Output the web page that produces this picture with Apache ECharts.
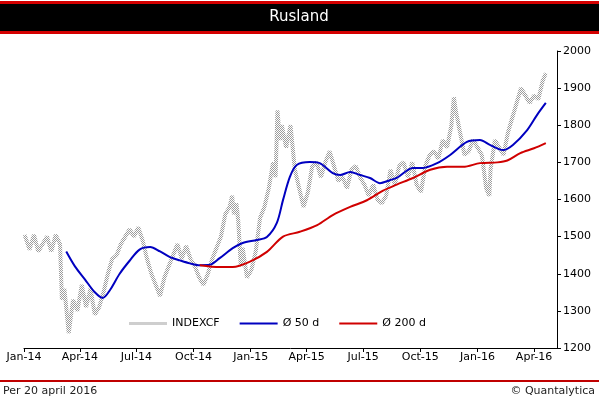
<!DOCTYPE html>
<html>
<head>
<meta charset="utf-8">
<script src="https://cdn.jsdelivr.net/npm/echarts@6/dist/echarts.min.js"></script>
<style>
  html, body { margin: 0; padding: 0; background: #fff; }
  #chart { width: 599px; height: 399px; }
</style>
</head>
<body>
<div id="chart"></div>
<script>
// index, weekly readings (extra points at sharp moves)
var indexDates = [
  '2014-01-02','2014-01-10','2014-01-17','2014-01-24','2014-01-31','2014-02-07','2014-02-14','2014-02-21','2014-02-28',
  '2014-03-03','2014-03-07','2014-03-14','2014-03-21','2014-03-28','2014-04-04','2014-04-11','2014-04-18','2014-04-25',
  '2014-05-02','2014-05-09','2014-05-16','2014-05-23','2014-05-30','2014-06-06','2014-06-13','2014-06-20','2014-06-27',
  '2014-07-04','2014-07-11','2014-07-18','2014-07-25','2014-08-01','2014-08-08','2014-08-15','2014-08-22','2014-08-29',
  '2014-09-05','2014-09-12','2014-09-19','2014-09-26','2014-10-03','2014-10-10','2014-10-17','2014-10-24','2014-10-31',
  '2014-11-07','2014-11-14','2014-11-21','2014-11-28','2014-12-02','2014-12-05','2014-12-09','2014-12-12','2014-12-16','2014-12-19','2014-12-26',
  '2015-01-02','2015-01-09','2015-01-16','2015-01-23','2015-01-30','2015-02-06','2015-02-10','2015-02-13','2015-02-17','2015-02-20','2015-02-27',
  '2015-03-06','2015-03-13','2015-03-20','2015-03-27','2015-04-03','2015-04-10','2015-04-17','2015-04-24','2015-05-01',
  '2015-05-08','2015-05-15','2015-05-22','2015-05-29','2015-06-05','2015-06-12','2015-06-19','2015-06-26','2015-07-03',
  '2015-07-10','2015-07-17','2015-07-24','2015-07-31','2015-08-07','2015-08-14','2015-08-21','2015-08-28','2015-09-04',
  '2015-09-11','2015-09-18','2015-09-25','2015-10-02','2015-10-09','2015-10-16','2015-10-23','2015-10-30','2015-11-06',
  '2015-11-13','2015-11-20','2015-11-24','2015-11-27','2015-12-04','2015-12-11','2015-12-18','2015-12-25','2016-01-01',
  '2016-01-08','2016-01-15','2016-01-20','2016-01-22','2016-01-29','2016-02-05','2016-02-12','2016-02-19','2016-02-26',
  '2016-03-04','2016-03-11','2016-03-18','2016-03-25','2016-04-01','2016-04-08','2016-04-15','2016-04-20'
];
var indexValues = [
  1505,1465,1505,1460,1480,1500,1460,1505,1480,
  1330,1360,1240,1330,1300,1370,1310,1360,1290,
  1310,1350,1400,1440,1450,1480,1500,1520,1500,
  1525,1490,1440,1400,1370,1340,1390,1420,1450,
  1480,1440,1475,1440,1420,1390,1370,1400,1440,
  1470,1500,1560,1580,1610,1560,1590,1540,1420,1470,1390,
  1410,1460,1550,1580,1630,1700,1660,1840,1760,1800,1740,
  1800,1680,1630,1580,1620,1690,1700,1660,1700,
  1730,1690,1650,1660,1630,1680,1690,1660,1640,
  1610,1640,1600,1590,1610,1680,1640,1690,1700,
  1660,1700,1640,1620,1690,1720,1730,1710,1760,
  1740,1800,1875,1840,1780,1720,1730,1760,1740,
  1720,1630,1610,1680,1760,1740,1720,1780,1820,
  1860,1900,1880,1860,1880,1870,1920,1940
];

// 50 day average
var ma50Dates = [
  '2014-03-10','2014-03-24','2014-04-09','2014-04-25','2014-05-08','2014-05-19','2014-06-04','2014-06-20','2014-07-06',
  '2014-07-23','2014-08-08','2014-08-24','2014-09-09','2014-09-25','2014-10-11','2014-10-27','2014-11-12','2014-12-03',
  '2014-12-19','2015-01-11','2015-01-27','2015-02-12','2015-02-22','2015-03-05','2015-03-16','2015-04-06','2015-04-22',
  '2015-05-13','2015-05-25','2015-06-10','2015-06-26','2015-07-12','2015-07-28','2015-08-13','2015-08-24','2015-09-19',
  '2015-10-05','2015-10-28','2015-11-18','2015-12-15','2016-01-05','2016-01-21','2016-02-11','2016-02-27','2016-03-21',
  '2016-04-06','2016-04-20'
];
var ma50Values = [
  1460,1420,1385,1350,1335,1355,1400,1435,1465,
  1472,1460,1445,1436,1428,1423,1424,1442,1469,
  1483,1491,1499,1537,1599,1661,1693,1701,1698,
  1671,1666,1674,1666,1658,1644,1652,1658,1685,
  1685,1698,1720,1755,1760,1747,1733,1747,1787,
  1828,1860
];

// 200 day average
var ma200Dates = [
  '2014-10-11','2014-11-12','2014-12-03','2014-12-30','2015-01-27','2015-02-22','2015-03-21','2015-04-18','2015-05-13',
  '2015-06-10','2015-07-07','2015-08-02','2015-08-24','2015-09-19','2015-10-17','2015-11-13','2015-12-09','2016-01-05',
  '2016-02-02','2016-02-18','2016-03-10','2016-04-01','2016-04-20'
];
var ma200Values = [
  1423,1418,1418,1432,1459,1500,1513,1531,1558,
  1580,1598,1624,1640,1658,1680,1688,1688,1698,
  1700,1705,1725,1738,1752
];

var tickDates = ['2014-01-01','2014-04-01','2014-07-01','2014-10-01','2015-01-01','2015-04-01',
                 '2015-07-01','2015-10-01','2016-01-01','2016-04-01'];
var monthNames = ['Jan','Feb','Mar','Apr','May','Jun','Jul','Aug','Sep','Oct','Nov','Dec'];

function ts(s) {
  var p = s.split('-');
  return Date.UTC(+p[0], +p[1] - 1, +p[2]);
}
function pairs(dates, vals) {
  return dates.map(function (d, i) { return [ts(d), vals[i]]; });
}

// dithered grey stroke like the original
var pat = document.createElement('canvas');
pat.width = 2; pat.height = 2;
var pctx = pat.getContext('2d');
pctx.fillStyle = '#9c9c9c';
pctx.fillRect(0, 0, 1, 1);
pctx.fillRect(1, 1, 1, 1);
var greyPat = { image: pat, repeat: 'repeat' };

var FONT = 'DejaVu Sans';
var chart = echarts.init(document.getElementById('chart'));
var tickTs = tickDates.map(ts);

var option = {
  backgroundColor: '#fff',
  animation: false,
  textStyle: { fontFamily: FONT },
  grid: { left: 24, right: 42, top: 51, bottom: 51 },
  graphic: [
    { type: 'rect', shape: { x: 0, y: 1, width: 599, height: 33 }, style: { fill: '#d40000' } },
    { type: 'rect', shape: { x: 0, y: 4, width: 599, height: 27 }, style: { fill: '#000' } },
    { type: 'text', x: 299, y: 17, style: { text: 'Rusland', fill: '#fff', font: '15px ' + FONT, textAlign: 'center', textVerticalAlign: 'middle' } },
    { type: 'rect', shape: { x: 0, y: 380, width: 599, height: 2 }, style: { fill: '#c00000' } },
    { type: 'text', x: 3, y: 391, style: { text: 'Per 20 april 2016', fill: '#222', font: '11px ' + FONT, textVerticalAlign: 'middle' } },
    { type: 'text', x: 595, y: 391, style: { text: '© Quantalytica', fill: '#222', font: '11px ' + FONT, textAlign: 'right', textVerticalAlign: 'middle' } }
  ],
  legend: {
    left: 124, top: 313, itemWidth: 38, itemHeight: 14, itemGap: 20,
    textStyle: { fontSize: 11, color: '#000', fontFamily: FONT },
    data: [
      { name: 'INDEXCF', icon: 'path://M0 0H38V3H0Z' },
      { name: 'Ø 50 d', icon: 'path://M0 0H38V2H0Z' },
      { name: 'Ø 200 d', icon: 'path://M0 0H38V2H0Z' }
    ]
  },
  xAxis: {
    type: 'value',
    min: ts('2014-01-01'), max: ts('2016-05-08'),
    splitLine: { show: false },
    axisLine: { lineStyle: { color: '#000', width: 1 } },
    axisTick: { show: true, length: 4, lineStyle: { color: '#000' }, customValues: tickTs },
    axisLabel: {
      color: '#000', fontSize: 11, fontFamily: FONT, margin: 4,
      customValues: tickTs,
      formatter: function (v) {
        var d = new Date(v);
        return monthNames[d.getUTCMonth()] + '-' + String(d.getUTCFullYear()).slice(2);
      }
    }
  },
  yAxis: {
    type: 'value', position: 'right',
    min: 1200, max: 2000, interval: 100,
    splitLine: { show: false },
    axisLine: { show: true, lineStyle: { color: '#000' } },
    axisTick: { show: true, length: 4, lineStyle: { color: '#000' } },
    axisLabel: { color: '#000', fontSize: 11, fontFamily: FONT, margin: 6, formatter: function (v) { return String(v); } }
  },
  series: [
    {
      name: 'INDEXCF', type: 'line', symbol: 'none',
      data: pairs(indexDates, indexValues),
      lineStyle: { width: 4, color: greyPat },
      itemStyle: { color: greyPat }
    },
    {
      name: 'Ø 50 d', type: 'line', symbol: 'none', smooth: 0.3,
      data: pairs(ma50Dates, ma50Values),
      lineStyle: { width: 2, color: '#0000c0' }, itemStyle: { color: '#0000c0' }
    },
    {
      name: 'Ø 200 d', type: 'line', symbol: 'none', smooth: 0.3,
      data: pairs(ma200Dates, ma200Values),
      lineStyle: { width: 2, color: '#d00000' }, itemStyle: { color: '#d00000' }
    }
  ]
};
chart.setOption(option);
</script>
</body>
</html>
